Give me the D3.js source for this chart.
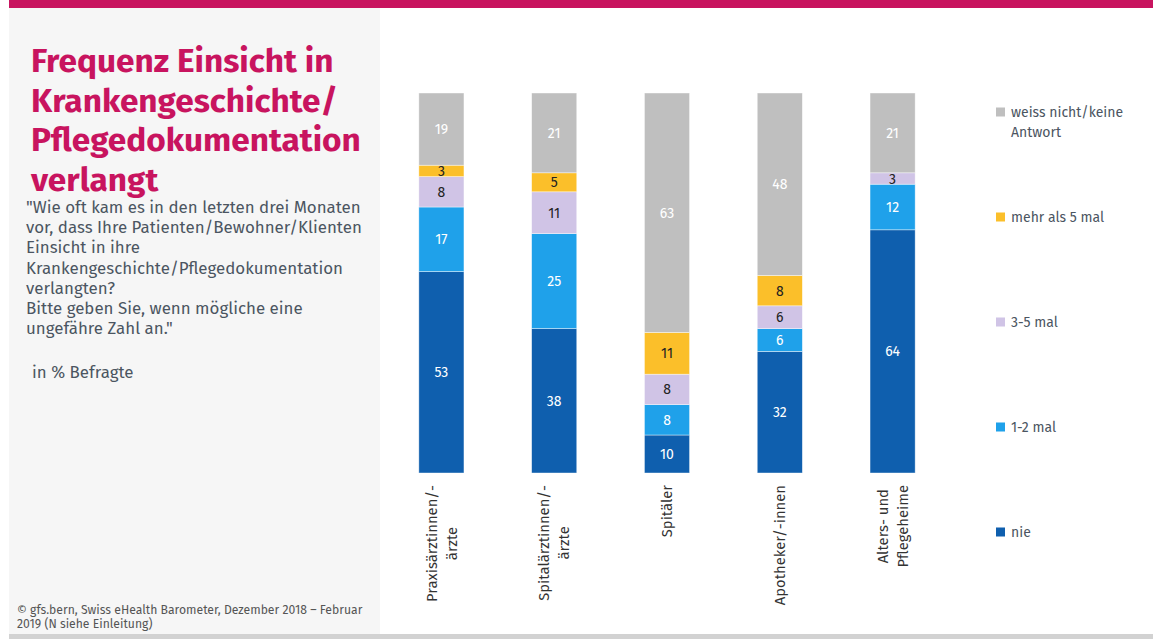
<!DOCTYPE html>
<html>
<head>
<meta charset="utf-8">
<script src="https://cdn.jsdelivr.net/npm/d3@7"></script>
<style>
  html, body { margin: 0; padding: 0; background: #fff; }
  svg { display: block; font-family: "Fira Sans", "Open Sans", sans-serif; }
</style>
</head>
<body>
<svg id="chart" width="1153" height="639"></svg>
<script>
// categories (multi-line axis labels)
var categories = [
    ["Praxisärztinnen/-", "ärzte"],
    ["Spitalärztinnen/-", "ärzte"],
    ["Spitäler"],
    ["Apotheker/-innen"],
    ["Alters- und", "Pflegeheime"]
];
var seriesNames = ["nie", "1-2 mal", "3-5 mal", "mehr als 5 mal", "weiss nicht/keine Antwort"];

// values in %
var nie = [53, 38, 10, 32, 64];
var einZweiMal = [17, 25, 8, 6, 12];
var dreiFuenfMal = [8, 11, 8, 6, 3];
var mehrAlsFuenf = [3, 5, 11, 8, 0];
var weissNicht = [19, 21, 63, 48, 21];

var colors = ["#0f5fae", "#1fa1ea", "#d0c4e6", "#fbbf2a", "#bfbfbf"];
var labelColors = ["#fff", "#fff", "#222", "#222", "#fff"];

var titleLines = ["Frequenz Einsicht in", "Krankengeschichte/", "Pflegedokumentation", "verlangt"];
var questionLines = [
    "\"Wie oft kam es in den letzten drei Monaten",
    "vor, dass Ihre Patienten/Bewohner/Klienten",
    "Einsicht in ihre",
    "Krankengeschichte/Pflegedokumentation",
    "verlangten?",
    "Bitte geben Sie, wenn mögliche eine",
    "ungefähre Zahl an.\""
];
var footerLines = [
    "© gfs.bern, Swiss eHealth Barometer, Dezember 2018 – Februar",
    "2019 (N siehe Einleitung)"
];

var svg = d3.select("#chart");

// frame
svg.append("rect").attr("x", 9).attr("y", 0).attr("width", 1144).attr("height", 8).attr("fill", "#c8145f");
svg.append("rect").attr("x", 9).attr("y", 8).attr("width", 371).attr("height", 627).attr("fill", "#f6f6f6");
svg.append("rect").attr("x", 9).attr("y", 634).attr("width", 1144).attr("height", 5).attr("fill", "#d2d2d2");

// title
svg.append("g").selectAll("text").data(titleLines).enter().append("text")
    .attr("x", 31)
    .attr("y", function(d, i) { return 72 + i * 39.5; })
    .attr("fill", "#c8145f")
    .style("font-size", "33.4px")
    .style("font-weight", "bold")
    .text(function(d) { return d; });

svg.append("g").selectAll("text").data(questionLines).enter().append("text")
    .attr("x", 26)
    .attr("y", function(d, i) { return 213 + i * 20.2; })
    .attr("fill", "#4b5561")
    .style("font-size", "16.9px")
    .text(function(d) { return d; });

svg.append("text")
    .attr("x", 32).attr("y", 378)
    .attr("fill", "#4b5561")
    .style("font-size", "16.9px")
    .text("in % Befragte");

svg.append("g").selectAll("text").data(footerLines).enter().append("text")
    .attr("x", 17)
    .attr("y", function(d, i) { return 614 + i * 14; })
    .attr("fill", "#555")
    .style("font-size", "12.2px")
    .text(function(d) { return d; });

// stacked bars
var table = categories.map(function(c, i) {
    return {
        idx: i,
        "nie": nie[i],
        "1-2 mal": einZweiMal[i],
        "3-5 mal": dreiFuenfMal[i],
        "mehr als 5 mal": mehrAlsFuenf[i],
        "weiss nicht/keine Antwort": weissNicht[i]
    };
});
var stacked = d3.stack().keys(seriesNames)(table);

var x = d3.scaleBand()
    .domain(d3.range(categories.length))
    .range([385, 949])
    .paddingInner(0.6)
    .paddingOuter(0.3);
var y = d3.scaleLinear().domain([0, 100]).range([473, 93]);

var layers = svg.append("g").selectAll("g").data(stacked).enter().append("g")
    .attr("fill", function(d, i) { return colors[i]; });

layers.selectAll("rect").data(function(d) { return d; }).enter().append("rect")
    .attr("x", function(d) { return x(d.data.idx); })
    .attr("y", function(d) { return y(d[1]); })
    .attr("width", x.bandwidth())
    .attr("height", function(d) { return y(d[0]) - y(d[1]); })
    .attr("stroke", "#fff")
    .attr("stroke-opacity", 0.6)
    .attr("stroke-width", 0.7);

layers.each(function(layer, li) {
    d3.select(this).selectAll("text")
        .data(layer.filter(function(d) { return d[1] - d[0] > 0; }))
        .enter().append("text")
        .attr("x", function(d) { return x(d.data.idx) + x.bandwidth() / 2; })
        .attr("y", function(d) { return (y(d[0]) + y(d[1])) / 2; })
        .attr("dy", "0.36em")
        .attr("text-anchor", "middle")
        .attr("fill", labelColors[li])
        .style("font-size", "14px")
        .text(function(d) { return d[1] - d[0]; });
});

// rotated category labels
var catG = svg.append("g").selectAll("g").data(categories).enter().append("g");
catG.each(function(lines, i) {
    var g = d3.select(this);
    var n = lines.length;
    var t = g.selectAll("text").data(lines).enter().append("text")
        .attr("text-anchor", "middle")
        .attr("x", 0)
        .attr("y", function(d, j) { return (j - (n - 1) / 2) * 20; })
        .attr("dy", "0.35em")
        .attr("fill", "#333")
        .style("font-size", "14.8px")
        .text(function(d) { return d; });
    var maxLen = 0;
    t.each(function() { maxLen = Math.max(maxLen, this.getComputedTextLength()); });
    var cx = x(i) + x.bandwidth() / 2;
    g.attr("transform", "translate(" + cx + "," + (485 + maxLen / 2) + ") rotate(-90)");
});

// legend
var legendY = d3.scalePoint().domain(seriesNames.slice().reverse()).range([112, 532]);
var leg = svg.append("g").selectAll("g").data(seriesNames).enter().append("g")
    .attr("transform", function(d) { return "translate(996," + legendY(d) + ")"; });
leg.append("rect")
    .attr("x", 0).attr("y", -4.5).attr("width", 9).attr("height", 9)
    .attr("fill", function(d, i) { return colors[i]; });
leg.append("text")
    .attr("x", 15)
    .attr("dy", "0.35em")
    .attr("fill", "#4b5561")
    .style("font-size", "14px")
    .each(function(d) {
        var parts = d === "weiss nicht/keine Antwort" ? ["weiss nicht/keine", "Antwort"] : [d];
        var el = d3.select(this);
        parts.forEach(function(p, k) {
            el.append("tspan").attr("x", 15).attr("dy", k === 0 ? "0.35em" : "1.45em").text(p);
        });
    });
</script>
</body>
</html>
